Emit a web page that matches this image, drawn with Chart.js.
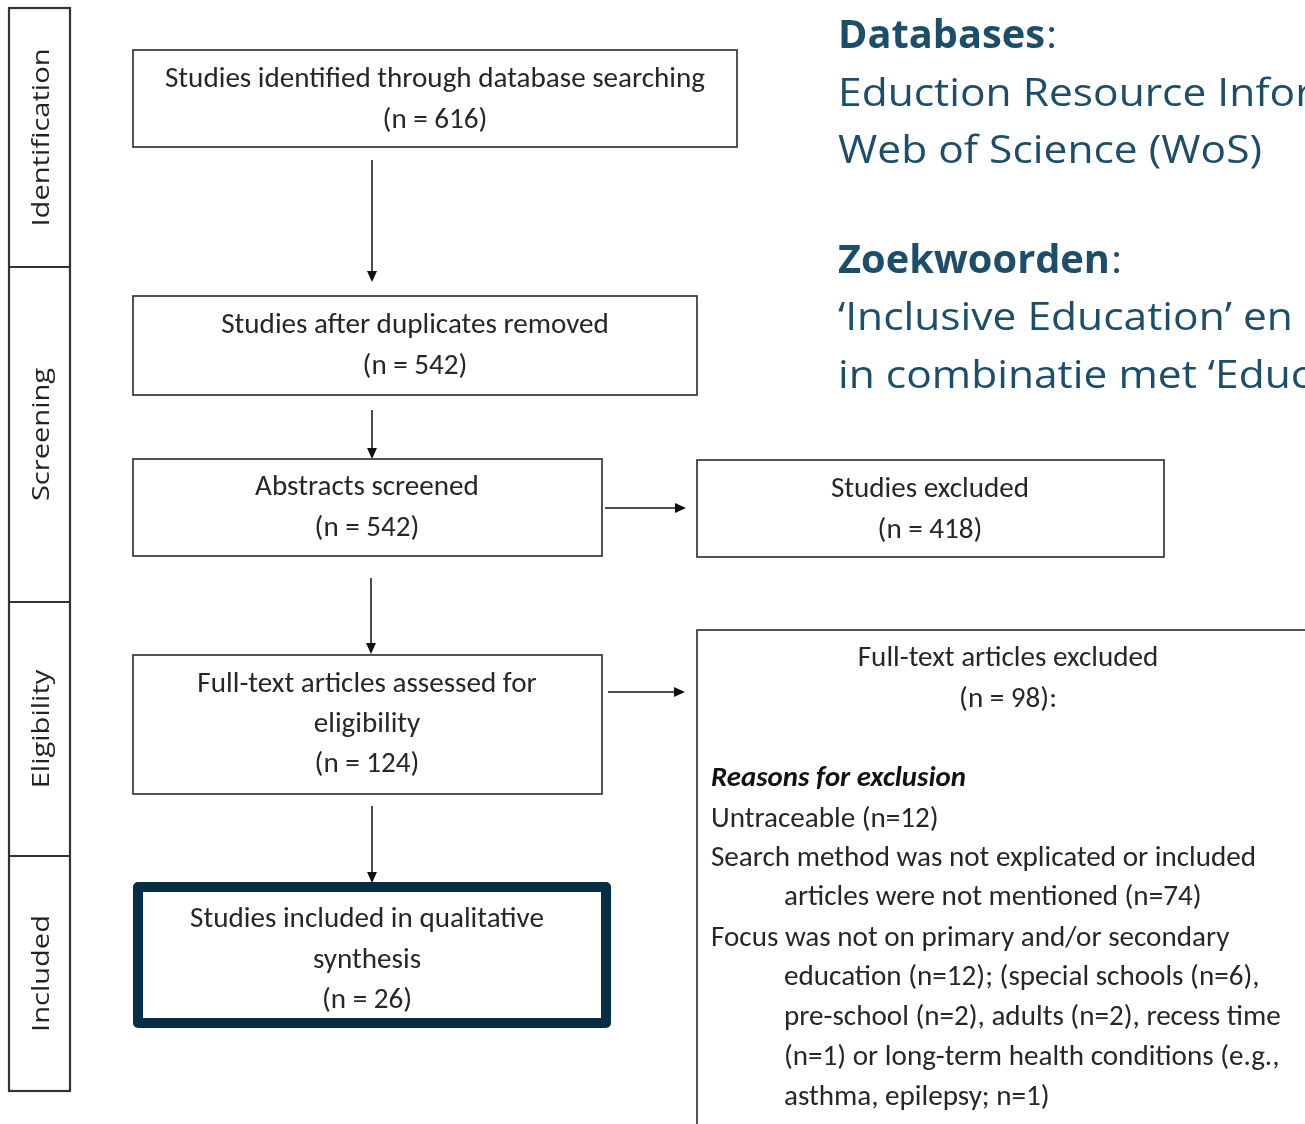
<!DOCTYPE html>
<html><head><meta charset="utf-8">
<script src="https://cdn.jsdelivr.net/npm/chart.js@4.4.1/dist/chart.umd.min.js"></script>
<style>html,body{margin:0;padding:0;background:#fff;overflow:hidden}#wrap{width:1305px;height:1124px}</style>
</head><body><div id="wrap"><canvas id="c" width="1305" height="1124"></canvas></div>
<script>
// ---------- DATA ----------
const stages = ['Identification', 'Screening', 'Eligibility', 'Included'];
const flowSteps = [
  ['Studies identified through database searching'],
  ['Studies after duplicates removed'],
  ['Abstracts screened'],
  ['Full-text articles assessed for', 'eligibility'],
  ['Studies included in qualitative', 'synthesis']
];
const flowCounts = [616, 542, 542, 124, 26];
const exclusionSteps = ['Studies excluded', 'Full-text articles excluded'];
const exclusionCounts = [418, 98];
const reasonsTitle = 'Reasons for exclusion';
const reasonLines = [
  ['Untraceable (n=12)'],
  ['Search method was not explicated or included', 'articles were not mentioned (n=74)'],
  ['Focus was not on primary and/or secondary', 'education (n=12); (special schools (n=6),',
   'pre-school (n=2), adults (n=2), recess time', '(n=1) or long-term health conditions (e.g.,',
   'asthma, epilepsy; n=1)']
];
const infoHeadings = ['Databases', 'Zoekwoorden'];
const infoLines = [
  ['Eduction Resource Infor', 'Web of Science (WoS)'],
  ['\u2018Inclusive Education\u2019 en', 'in combinatie met \u2018Educ']
];

// ---------- LAYOUT (positions / sizes / styles) ----------
const L = {
  stageX: [9, 70], stageBounds: [8, 267, 602, 856, 1091], stageTextX: 42,
  boxes: [
    {x0: 133, x1: 737, y0: 50, y1: 147, cx: 435, ys: [80, 121]},
    {x0: 133, x1: 697, y0: 296, y1: 395, cx: 415, ys: [326, 367]},
    {x0: 133, x1: 602, y0: 459, y1: 556, cx: 367, ys: [488, 529]},
    {x0: 133, x1: 602, y0: 655, y1: 794, cx: 367, ys: [685, 725, 765]},
    {x0: 133, x1: 611, y0: 882, y1: 1028, cx: 367, ys: [920, 961, 1001], thick: true}
  ],
  exBoxes: [
    {x0: 697, x1: 1164, y0: 460, y1: 557, cx: 930, ys: [490, 531]},
    {x0: 697, x1: 1400, y0: 630, y1: 1200, cx: 1008, ys: [659, 700]}
  ],
  reasonsTitleY: 779, reasonX: 711, reasonIndentX: 784,
  reasonYs: [820, 859, 898, 939, 978, 1018, 1058, 1098],
  downArrows: [[372, 160, 282], [372, 410, 459], [371, 578, 654], [372, 806, 883]],
  rightArrows: [[508, 605, 686], [692, 608, 685]],
  infoX: 838, infoHeadYs: [37, 262], infoLineYs: [[95, 152], [319, 377]]
};
const BOX_FAMILY = '"Carlito", "Liberation Sans Narrow", "Liberation Sans", sans-serif';
const infoFont = (w, s) => w + ' ' + s + 'px "Open Sans", sans-serif';

const prisma = {
  id: 'prisma',
  beforeDraw(chart) {
    const c = chart.ctx; c.save(); c.fillStyle = '#fff'; c.fillRect(0, 0, chart.width, chart.height); c.restore();
  },
  afterDraw(chart) {
    const c = chart.ctx, sx = chart.scales.x, sy = chart.scales.y;
    const X = v => sx.getPixelForValue(v), Y = v => sy.getPixelForValue(v);
    const scaleFor = (font, ref, target) => { c.font = font; return target / c.measureText(ref).width; };
    function text(t, x, y, font, k, align, color) {
      c.save(); c.font = font; c.fillStyle = color; c.textBaseline = 'middle';
      c.translate(X(x), Y(y)); c.scale(k, 1); c.textAlign = align || 'center';
      c.fillText(t, 0, 0); c.restore();
    }
    const bf = '29px ' + BOX_FAMILY;
    const kBox = scaleFor(bf, 'Studies identified through database searching', 540);
    const bif = 'italic bold 29px ' + BOX_FAMILY;
    const kBI = scaleFor(bif, reasonsTitle, 255);
    const sf = '24px "Open Sans", sans-serif';
    const kStage = scaleFor(sf, 'Identification', 178);
    const inf = infoFont('normal', 39), inb = infoFont('bold', 39);
    const kInfo = scaleFor(inf, 'Web of Science (WoS)', 424);
    const kInfoB = scaleFor(inb, 'Zoekwoorden', 272);

    // stage column
    c.save(); c.strokeStyle = '#333'; c.lineWidth = 2.2;
    const b = L.stageBounds;
    c.strokeRect(X(L.stageX[0]), Y(b[0]), X(L.stageX[1]) - X(L.stageX[0]), Y(b[4]) - Y(b[0]));
    for (let i = 1; i < 4; i++) { c.beginPath(); c.moveTo(X(L.stageX[0]), Y(b[i])); c.lineTo(X(L.stageX[1]), Y(b[i])); c.stroke(); }
    c.restore();
    stages.forEach((s, i) => {
      c.save(); c.font = sf; c.fillStyle = '#222'; c.textAlign = 'center'; c.textBaseline = 'middle';
      c.translate(X(L.stageTextX), Y((b[i] + b[i + 1]) / 2)); c.rotate(-Math.PI / 2); c.scale(kStage, 1);
      c.fillText(s, 0, 0); c.restore();
    });

    // boxes
    function drawBox(bx) {
      c.save();
      if (bx.thick) {
        c.strokeStyle = '#062e47'; c.lineWidth = 10; c.lineJoin = 'round';
        c.strokeRect(X(bx.x0) + 5, Y(bx.y0) + 5, X(bx.x1) - X(bx.x0) - 10, Y(bx.y1) - Y(bx.y0) - 10);
      } else {
        c.strokeStyle = '#2a2a2a'; c.lineWidth = 1.6;
        c.strokeRect(X(bx.x0), Y(bx.y0), X(bx.x1) - X(bx.x0), Y(bx.y1) - Y(bx.y0));
      }
      c.restore();
    }
    L.boxes.forEach((bx, i) => {
      drawBox(bx);
      const lines = flowSteps[i].concat(['(n = ' + flowCounts[i] + ')']);
      lines.forEach((t, j) => text(t, bx.cx, bx.ys[j], bf, kBox, 'center', '#262626'));
    });
    L.exBoxes.forEach((bx, i) => {
      drawBox(bx);
      const lines = [exclusionSteps[i], '(n = ' + exclusionCounts[i] + ')' + (i === 1 ? ':' : '')];
      lines.forEach((t, j) => text(t, bx.cx, bx.ys[j], bf, kBox, 'center', '#262626'));
    });
    text(reasonsTitle, L.reasonX, L.reasonsTitleY, bif, kBI, 'left', '#111');
    let r = 0;
    reasonLines.forEach(group => group.forEach((t, j) => {
      text(t, j === 0 ? L.reasonX : L.reasonIndentX, L.reasonYs[r++], bf, kBox, 'left', '#262626');
    }));

    // arrows
    function arrow(x1, y1, x2, y2) {
      const ax1 = X(x1), ay1 = Y(y1), ax2 = X(x2), ay2 = Y(y2);
      const ang = Math.atan2(ay2 - ay1, ax2 - ax1), hl = 11, hw = 5;
      c.save(); c.strokeStyle = '#111'; c.fillStyle = '#111'; c.lineWidth = 1.5;
      c.beginPath(); c.moveTo(ax1, ay1); c.lineTo(ax2 - hl * Math.cos(ang), ay2 - hl * Math.sin(ang)); c.stroke();
      c.beginPath(); c.moveTo(ax2, ay2);
      c.lineTo(ax2 - hl * Math.cos(ang) + hw * Math.sin(ang), ay2 - hl * Math.sin(ang) - hw * Math.cos(ang));
      c.lineTo(ax2 - hl * Math.cos(ang) - hw * Math.sin(ang), ay2 - hl * Math.sin(ang) + hw * Math.cos(ang));
      c.closePath(); c.fill(); c.restore();
    }
    L.downArrows.forEach(a => arrow(a[0], a[1], a[0], a[2]));
    L.rightArrows.forEach(a => arrow(a[1], a[0], a[2], a[0]));

    // info text (top right)
    infoHeadings.forEach((h, i) => {
      const y = L.infoHeadYs[i];
      c.save(); c.font = inb; const w = c.measureText(h).width * kInfoB; c.restore();
      text(h, L.infoX, y, inb, kInfoB, 'left', '#1d4e69');
      text(':', L.infoX + w + 1, y, inf, kInfo, 'left', '#1d4e69');
      infoLines[i].forEach((t, j) => text(t, L.infoX, L.infoLineYs[i][j], inf, kInfo, 'left', '#1d4e69'));
    });
  }
};

new Chart(document.getElementById('c'), {
  type: 'scatter',
  data: { datasets: [{ data: [], pointRadius: 0 }] },
  options: {
    responsive: false, animation: false, events: [],
    layout: { padding: 0 },
    plugins: { legend: { display: false }, tooltip: { enabled: false } },
    scales: {
      x: { type: 'linear', min: 0, max: 1305, display: false },
      y: { type: 'linear', min: 0, max: 1124, reverse: true, display: false }
    }
  },
  plugins: [prisma]
});
</script></body></html>
